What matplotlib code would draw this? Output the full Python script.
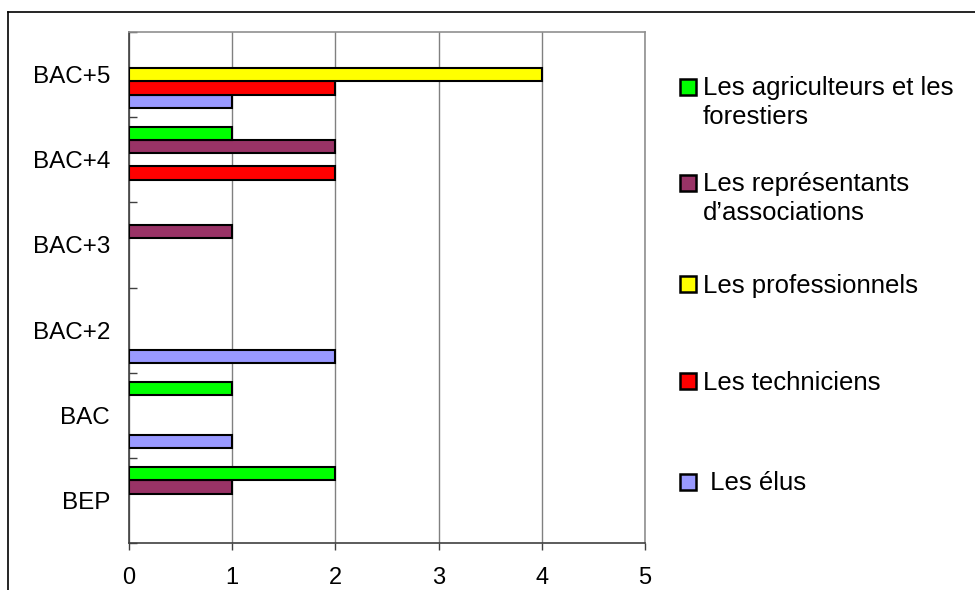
import matplotlib
matplotlib.use("Agg")
import matplotlib.pyplot as plt
from matplotlib.lines import Line2D
from matplotlib.patches import Rectangle
import numpy as np

plt.rcParams['font.family'] = ['Liberation Sans', 'DejaVu Sans']

categories = ["BEP", "BAC", "BAC+2", "BAC+3", "BAC+4", "BAC+5"]
series_names = ["Les élus", "Les techniciens", "Les professionnels",
                "Les représentants d\u2019associations",
                "Les agriculteurs et les forestiers"]
legend_labels = [" Les élus", "Les techniciens", "Les professionnels",
                 "Les représentants\nd\u2019associations",
                 "Les agriculteurs et les\nforestiers"]
elus = [0, 1, 2, 0, 0, 1]
techniciens = [0, 0, 0, 0, 2, 2]
professionnels = [0, 0, 0, 0, 0, 4]
representants = [1, 0, 0, 1, 2, 0]
agriculteurs = [2, 1, 0, 0, 1, 0]
series = [elus, techniciens, professionnels, representants, agriculteurs]
colors = ["#9999FF", "#FF0000", "#FFFF00", "#993366", "#00FF00"]
xticks = [0, 1, 2, 3, 4, 5]

W, H = 975, 590
fig = plt.figure(figsize=(W / 100, H / 100), dpi=100)
ax = fig.add_axes([129 / W, (H - 543) / H, (645 - 129) / W, (543 - 32) / H])

n = len(series)
h = 0.156
y = np.arange(len(categories))
for j, (vals, c) in enumerate(zip(series, colors)):
    lw = [1.5 if v > 0 else 0 for v in vals]
    ax.barh(y + (j - (n - 1) / 2) * h, vals, height=h, color=c,
            edgecolor="black", linewidth=lw, zorder=3)

ax.set_xlim(0, 5)
ax.set_ylim(-0.5, len(categories) - 0.5)
ax.set_xticks(xticks)
ax.set_xticklabels([str(t) for t in xticks])
ax.xaxis.grid(True, color="#808080", linewidth=1.0, zorder=0)
ax.set_yticks(y)
ax.set_yticklabels(categories)
ax.set_yticks(np.arange(-0.5, len(categories)), minor=True)
ax.tick_params(axis="y", which="major", length=0, pad=13.5, labelsize=17.5)
ax.tick_params(axis="y", which="minor", direction="in", length=5.5,
               width=1, color="#404040")
ax.tick_params(axis="x", which="major", direction="out", length=5,
               width=1, color="#404040", pad=12, labelsize=17)

for s in ["left", "bottom"]:
    ax.spines[s].set_color("#404040")
    ax.spines[s].set_linewidth(1.2)
for s in ["top", "right"]:
    ax.spines[s].set_color("#909090")
    ax.spines[s].set_linewidth(1.2)

# outer chart frame
fig.add_artist(Line2D([8 / W, 1.0], [(H - 12) / H, (H - 12) / H],
                      transform=fig.transFigure, color="black", linewidth=1.2))
fig.add_artist(Line2D([8 / W, 8 / W], [0, (H - 12) / H],
                      transform=fig.transFigure, color="black", linewidth=1.2))

# legend (reverse order, as in the reference)
ycent = [482, 381, 284, 183, 87]
sq = 16
for j in range(n - 1, -1, -1):
    yc = ycent[j]
    fig.add_artist(Rectangle((680 / W, (H - yc - sq / 2) / H), sq / W, sq / H,
                             transform=fig.transFigure, facecolor=colors[j],
                             edgecolor="black", linewidth=1.8))
    lines = legend_labels[j].split("\n")
    for k, line in enumerate(lines):
        fig.text(703 / W, (H - yc - 8.5 - k * 28) / H, line, fontsize=18.5,
                 va="baseline", ha="left")

fig.savefig("out.png", dpi=100)
